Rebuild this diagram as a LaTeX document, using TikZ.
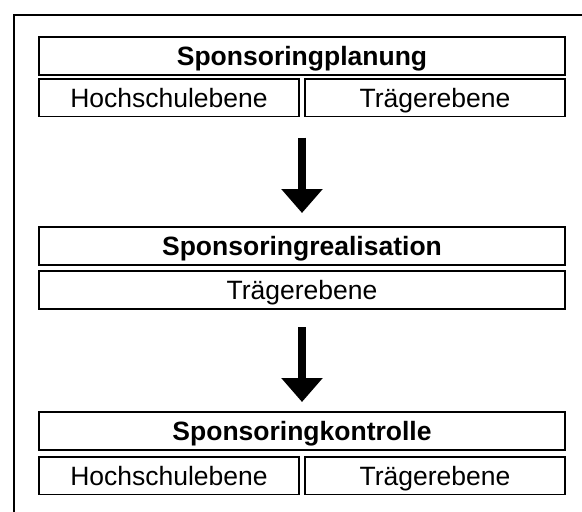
\documentclass[tikz,border=0pt]{standalone}
\usepackage{fontspec}
\setmainfont{Liberation Sans}
\usetikzlibrary{arrows.meta,positioning}

\begin{document}
\begin{tikzpicture}[
  x=1pt, y=-1pt,
  font=\fontsize{26.5}{30}\selectfont,
  box/.style={draw, line width=1.5pt, inner sep=0pt, outer sep=0pt,
              text height=19pt, text depth=0pt, anchor=north west},
  head/.style={box, font=\fontsize{26.5}{30}\selectfont\bfseries,
               minimum width=526pt, minimum height=38pt},
  full/.style={box, minimum width=526pt, minimum height=38pt},
  half/.style={box, minimum width=260pt, minimum height=37.5pt},
  flow/.style={line width=8pt, -{Triangle[length=24pt,width=40pt]}}
]
\useasboundingbox (0,0) rectangle (582,512);
% ---- outer frame (cut by the page) ----
\begin{scope}
  \clip (0,0) rectangle (582,512);
  \draw[line width=1.5pt] (14,530) -- (14,15) -- (600,15);
\end{scope}

% ---- planning ----
\node[head] (plan)  at (39,37)  {Sponsoringplanung};
\node[half] (planH) at (39,79)  {Hochschulebene};
\node[half] (planT) at (305,79) {Trägerebene};

% ---- realisation ----
\node[head] (real)  at (39,227) {Sponsoringrealisation};
\node[full] (realT) at (39,271) {Trägerebene};

% ---- control ----
\node[head] (kont)  at (39,412) {Sponsoringkontrolle};
\node[half] (kontH) at (39,457) {Hochschulebene};
\node[half] (kontT) at (305,457) {Trägerebene};

\draw[flow, shorten <=21pt, shorten >=14pt] (plan.south |- planH.south) -- (real.north);
\draw[flow, shorten <=18pt, shorten >=10pt] (realT.south) -- (kont.north);
\end{tikzpicture}
\end{document}
